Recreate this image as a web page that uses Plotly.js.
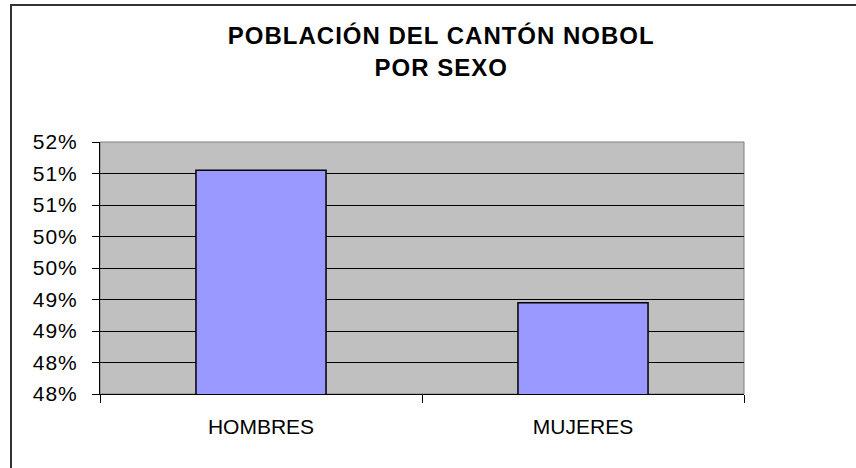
<!DOCTYPE html>
<html>
<head>
<meta charset="utf-8">
<script src="https://cdn.plot.ly/plotly-3.0.1.min.js"></script>
<style>
  html, body { margin: 0; padding: 0; background: #ffffff; }
  #wrap { position: relative; width: 856px; height: 468px; overflow: hidden; }
  #chart { width: 856px; height: 468px; }
  #frame { position: absolute; left: 10px; top: 4px; width: 900px; height: 500px;
           border-left: 2px solid #333333; border-top: 2px solid #333333; pointer-events: none; }
  .ytick text { letter-spacing: 1px; }
  .gtitle { letter-spacing: 1px; }
</style>
</head>
<body>
<div id="wrap">
  <div id="chart"></div>
  <div id="frame"></div>
</div>
<script>
const chartTitle = "POBLACIÓN DEL CANTÓN NOBOL<br>POR SEXO";
const categories = ["HOMBRES", "MUJERES"];
const shares = [0.5105, 0.4895];
const yTickVals = [0.475, 0.48, 0.485, 0.49, 0.495, 0.50, 0.505, 0.51, 0.515];
const yTickText = ["48%", "48%", "49%", "49%", "50%", "50%", "51%", "51%", "52%"];

const font = "'Liberation Sans', Arial, sans-serif";

const trace = {
  type: "bar",
  x: categories,
  y: shares,
  marker: { color: "#9999FF", line: { color: "#000000", width: 1.5 } },
  hoverinfo: "x+y"
};

const layout = {
  width: 856,
  height: 468,
  margin: { l: 100, r: 112, t: 142, b: 74 },
  paper_bgcolor: "#ffffff",
  plot_bgcolor: "#C0C0C0",
  bargap: 0.596,
  showlegend: false,
  font: { family: font, size: 21, color: "#000000" },
  title: {
    text: chartTitle,
    font: { family: font, size: 24, color: "#000000", weight: "bold" },
    xref: "container", x: 0.5155, xanchor: "center",
    yref: "container", y: 0.905, yanchor: "top"
  },
  xaxis: {
    type: "category",
    showgrid: false,
    showline: true, linecolor: "#000000", linewidth: 1,
    ticks: "outside", ticklen: 8, tickcolor: "#000000", tickwidth: 1,
    tickson: "boundaries",
    ticklabelstandoff: 14,
    tickfont: { family: font, size: 21, color: "#000000" },
    zeroline: false
  },
  yaxis: {
    range: [0.475, 0.515],
    tickmode: "array",
    tickvals: yTickVals,
    ticktext: yTickText,
    showgrid: true, gridcolor: "#000000", gridwidth: 1,
    showline: true, linecolor: "#000000", linewidth: 1,
    ticks: "outside", ticklen: 7, tickcolor: "#000000", tickwidth: 1,
    ticklabelstandoff: 10,
    tickfont: { family: font, size: 21, color: "#000000" },
    zeroline: false,
    fixedrange: true
  },
  shapes: [
    {
      type: "rect", xref: "paper", yref: "paper",
      x0: 0, x1: 1, y0: 0, y1: 1,
      line: { color: "#808080", width: 1 }, layer: "below", fillcolor: "rgba(0,0,0,0)"
    }
  ]
};

Plotly.newPlot("chart", [trace], layout, { displayModeBar: false, staticPlot: true });
</script>
</body>
</html>
